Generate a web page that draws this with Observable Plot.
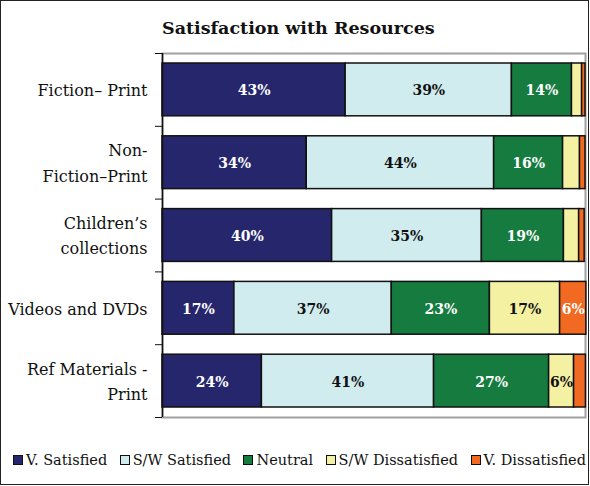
<!DOCTYPE html>
<html>
<head>
<meta charset="utf-8">
<script src="https://cdn.jsdelivr.net/npm/d3@7"></script>
<script src="https://cdn.jsdelivr.net/npm/@observablehq/plot@0.6"></script>
<style>
  body { margin: 0; background: #fff; }
  #wrap { position: relative; width: 590px; height: 486px; overflow: hidden; font-family: "DejaVu Serif", serif; }
  #border { position: absolute; left: 0; top: 0; width: 589px; height: 485px; box-sizing: border-box; border: 1px solid #222; pointer-events: none; }
  #title { position: absolute; top: 18px; left: 162px; width: 270px; text-align: center; font-weight: bold; font-size: 17.5px; color: #111; white-space: nowrap; }
  #chart { position: absolute; left: 0; top: 0; }
  #legend { position: absolute; top: 452px; left: 13px; width: 573px; display: flex; justify-content: space-between; font-size: 14.5px; color: #111; white-space: nowrap; }
  .item { display: flex; align-items: center; }
  .sw { width: 8px; height: 8px; border: 1.5px solid #111; margin-right: 3px; }
</style>
</head>
<body>
<div id="wrap">
  <div id="chart"></div>
  <div id="title">Satisfaction with Resources</div>
  <div id="legend"></div>
  <div id="border"></div>
</div>
<script>
const categories = ["Fiction\u2013 Print", "Non-\nFiction\u2013Print", "Children\u2019s\ncollections", "Videos and DVDs", "Ref Materials -\nPrint"];
const seriesNames = ["V. Satisfied", "S/W Satisfied", "Neutral", "S/W Dissatisfied", "V. Dissatisfied"];
const seriesColors = ["#26266c", "#d0ecef", "#157b3f", "#f5f1a3", "#f26a22"];
const labelColors = ["#ffffff", "#111111", "#ffffff", "#111111", "#ffffff"];
const vSatisfied = [43.3, 34.1, 40.1, 17.0, 23.5];
const swSatisfied = [39.3, 44.3, 35.4, 37.2, 40.7];
const neutral = [14.2, 16.3, 19.4, 23.2, 27.2];
const swDissatisfied = [2.4, 4.0, 3.6, 16.6, 5.9];
const vDissatisfied = [0.8, 1.3, 1.3, 6.2, 2.8];
const yTicks = [0, 1, 2, 3, 4, 5];

const seriesValues = [vSatisfied, swSatisfied, neutral, swDissatisfied, vDissatisfied];
const rows = [];
categories.forEach((cat, i) => {
  let acc = 0;
  seriesValues.forEach((vals, s) => {
    const v = vals[i];
    rows.push({cat, idx: i, s, series: seriesNames[s], value: v, x1: acc, x2: acc + v});
    acc += v;
  });
});
const catRows = categories.map((c, i) => ({cat: c, idx: i}));

const plot = Plot.plot({
  width: 590,
  height: 440,
  marginTop: 53,
  marginBottom: 23,
  marginLeft: 162,
  marginRight: 5,
  style: {fontFamily: "DejaVu Serif, serif", background: "transparent"},
  x: {domain: [0, 100], axis: null},
  y: {domain: [0, 5], reverse: true, axis: null},
  color: {domain: seriesNames, range: seriesColors},
  marks: [
    Plot.frame({stroke: "#a0a0a0", strokeWidth: 2}),
    Plot.rect(rows, {
      x1: "x1", x2: "x2",
      y1: d => d.idx, y2: d => d.idx + 1,
      insetTop: 10, insetBottom: 10,
      fill: "series", stroke: "#111", strokeWidth: 1.5
    }),
    Plot.text(rows.filter(d => d.value >= 5), {
      x: d => (d.x1 + d.x2) / 2,
      y: d => d.idx + 0.5,
      text: d => Math.round(d.value) + "%",
      fill: d => labelColors[d.s],
      fontWeight: "bold",
      fontSize: 14,
      dy: 1
    }),
    Plot.ruleX([0], {stroke: "#111", strokeWidth: 1.5}),
    Plot.axisY(yTicks, {tickSize: 7, tickFormat: () => "", stroke: "#111"}),
    Plot.text(catRows, {
      x: 0, y: d => d.idx + 0.5,
      text: "cat",
      textAnchor: "end",
      dx: -15,
      dy: -2,
      lineHeight: 1.6,
      fontSize: 16,
      fill: "#111"
    })
  ]
});
document.getElementById("chart").appendChild(plot);

const legend = document.getElementById("legend");
seriesNames.forEach((name, i) => {
  const item = document.createElement("div");
  item.className = "item";
  const sw = document.createElement("span");
  sw.className = "sw";
  sw.style.background = seriesColors[i];
  const t = document.createElement("span");
  t.textContent = name;
  item.appendChild(sw);
  item.appendChild(t);
  legend.appendChild(item);
});
</script>
</body>
</html>
